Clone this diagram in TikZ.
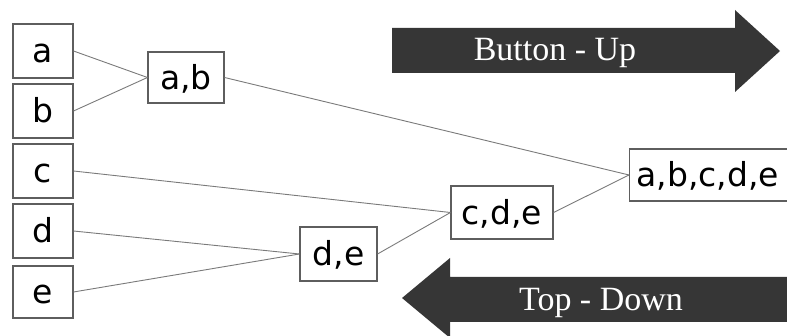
\documentclass[tikz,border=0pt]{standalone}
\usepackage{fontspec}
\setmainfont{DejaVu Sans}
\newfontfamily\arrowfont{Liberation Serif}
\definecolor{boxline}{HTML}{5E5E5E}
\definecolor{conn}{HTML}{7A7A7A}
\definecolor{arrowfill}{HTML}{363636}
\begin{document}
\begin{tikzpicture}[x=1pt,y=-1pt,
  setbox/.style={draw=boxline, line width=1.1pt, fill=white, inner sep=0pt,
    font=\fontsize{33}{39}\selectfont, text height=25pt, text depth=1pt},
  link/.style={draw=conn, line width=0.9pt},
  bigarrow/.style={fill=arrowfill, draw=none},
  arrowlabel/.style={text=white, font=\arrowfont\fontsize{34}{40}\selectfont, anchor=base, inner sep=0pt}]
\useasboundingbox (0,0) rectangle (787,336);
\clip (0,0) rectangle (787,336);
% arrows
\fill[bigarrow] (392,28) -- (735,28) -- (735,10) -- (780,51) -- (735,92) -- (735,73) -- (392,73) -- cycle;
\fill[bigarrow] (800,277) -- (450,277) -- (450,258) -- (402,298) -- (450,338) -- (450,322) -- (800,322) -- cycle;
\node[arrowlabel] (bu) at (555,61) {Button - Up};
\node[arrowlabel] (td) at (601,311) {Top - Down};
% leaf nodes
\node[setbox, minimum width=60pt, minimum height=54pt] (a) at (43,51) {a};
\node[setbox, minimum width=60pt, minimum height=54pt] (b) at (43,111) {b};
\node[setbox, minimum width=60pt, minimum height=54pt] (c) at (43,171) {c};
\node[setbox, minimum width=60pt, minimum height=54pt] (d) at (43,231) {d};
\node[setbox, minimum width=60pt, minimum height=52pt] (e) at (43,292) {e};
% merged nodes
\node[setbox, minimum width=76pt, minimum height=51pt] (ab) at (186,77.5) {a,b};
\node[setbox, minimum width=77pt, minimum height=54pt] (de) at (338.5,254) {d,e};
\node[setbox, minimum width=102pt, minimum height=53pt] (cde) at (502,212.5) {c,d,e};
\node[setbox, anchor=west, minimum height=52pt, text width=160pt, align=left, inner xsep=7pt] (abcde) at (629,175) {a,b,c,d,e};
% connectors
\draw[link] (a.east) -- (ab.west);
\draw[link] (b.east) -- (ab.west);
\draw[link] (ab.east) -- (abcde.west);
\draw[link] (c.east) -- (cde.west);
\draw[link] (d.east) -- (de.west);
\draw[link] (e.east) -- (de.west);
\draw[link] (de.east) -- (cde.west);
\draw[link] (cde.east) -- (abcde.west);
\end{tikzpicture}
\end{document}
